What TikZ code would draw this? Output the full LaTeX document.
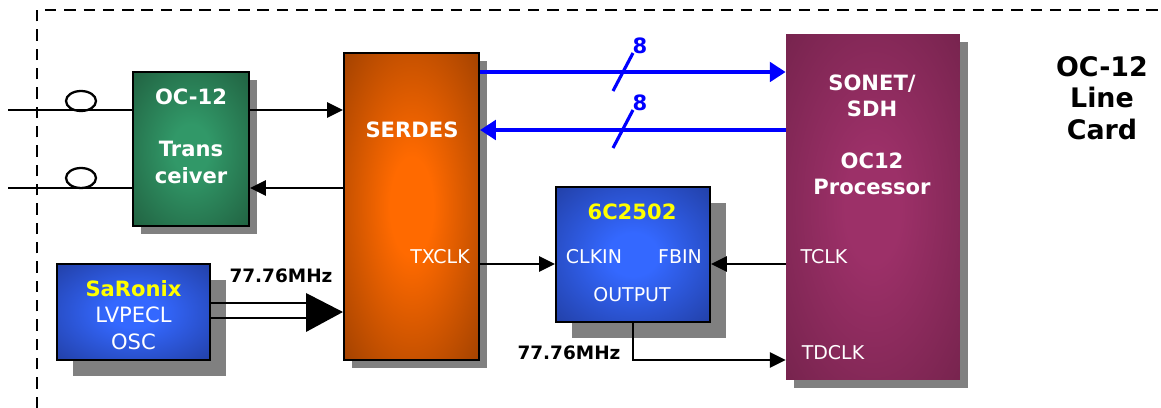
\documentclass[tikz,border=0pt]{standalone}
\usepackage{fontspec}
\setmainfont{DejaVu Sans}
\usepackage{tikz}
\usetikzlibrary{arrows.meta,positioning,shapes.geometric,shadows}

\definecolor{trxout}{HTML}{1A4A30}
\definecolor{trxin}{HTML}{319868}
\definecolor{serout}{HTML}{7A3000}
\definecolor{serin}{HTML}{FF6A00}
\definecolor{oscout}{HTML}{1A2E80}
\definecolor{oscin}{HTML}{3468FF}
\definecolor{procout}{HTML}{661E42}
\definecolor{procin}{HTML}{9C3068}
\definecolor{chipyellow}{HTML}{FFFF00}

\pgfdeclareradialshading{trxglow}{\pgfpointorigin}{color(0bp)=(trxin); color(8bp)=(trxin); color(48bp)=(trxout); color(72bp)=(trxout)}
\pgfdeclareradialshading{serglow}{\pgfpointorigin}{color(0bp)=(serin); color(8bp)=(serin); color(48bp)=(serout); color(72bp)=(serout)}
\pgfdeclareradialshading{oscglow}{\pgfpointorigin}{color(0bp)=(oscin); color(8bp)=(oscin); color(48bp)=(oscout); color(72bp)=(oscout)}
\pgfdeclareradialshading{procglow}{\pgfpointorigin}{color(0bp)=(procin); color(8bp)=(procin); color(48bp)=(procout); color(72bp)=(procout)}

\begin{document}
\begin{tikzpicture}[
        x=0.02cm, y=-0.02cm,
        box/.style = {draw=black, line width=1.2pt, inner sep=0pt},
        liftA/.style = {drop shadow={shadow xshift=0.16cm, shadow yshift=-0.16cm, fill=gray, opacity=1}},
        liftB/.style = {drop shadow={shadow xshift=0.32cm, shadow yshift=-0.32cm, fill=gray, opacity=1}},
        title/.style = {text=white, align=center, font=\fontsize{12}{15.3}\selectfont\bfseries},
        port/.style = {text=white, font=\fontsize{10.8}{13}\selectfont},
        freq/.style = {font=\fontsize{10.5}{12}\selectfont\bfseries},
        wire/.style = {line width=1.5pt},
        arr/.style = {wire, -{Triangle[length=9pt,width=8.5pt]}},
        bus/.style = {blue, line width=2.8pt, -{Triangle[length=9pt,width=11pt]}},
        loopfiber/.style = {ellipse, draw, line width=1.3pt, minimum width=0.6cm, minimum height=0.4cm, inner sep=0pt}
    ]
    \useasboundingbox (0,0) rectangle (1161,408);

    % card outline
    \draw[dashed, dash pattern=on 6.5pt off 4.5pt, line width=0.8pt] (37,408) -- (37,10) -- (1161,10);

    % blocks
    \node[box, liftA, shading=trxglow, minimum width=2.32cm, minimum height=3.08cm] (trx) at (191,149) {};
    \node[box, liftA, shading=serglow, minimum width=2.7cm, minimum height=6.14cm] (serdes) at (411.5,206.5) {};
    \node[box, liftB, shading=oscglow, minimum width=3.06cm, minimum height=1.92cm] (osc) at (133.5,312) {};
    \node[box, liftB, shading=oscglow, minimum width=3.08cm, minimum height=2.7cm] (pll) at (633,254.5) {};
    \node[inner sep=0pt, liftA, shading=procglow, minimum width=3.48cm, minimum height=6.92cm] (proc) at (873,207) {};

    % block texts
    \node[title] (trxname) at (191,97) {OC-12};
    \node[title] (trxkind) at (191,162.5) {Trans\\ceiver};
    \node[title] (sername) at (412,130) {SERDES};
    \node[title, font=\fontsize{12}{15}\selectfont] (oscname) at (133.5,315)
        {\textcolor{chipyellow}{\bfseries SaRonix}\\LVPECL\\OSC};
    \node[title, text=chipyellow] (pllname) at (632,212) {6C2502};
    \node[title, font=\fontsize{12}{14.7}\selectfont\bfseries] (procnameA) at (872,96) {SONET/\\SDH};
    \node[title, font=\fontsize{12}{14.7}\selectfont\bfseries] (procnameB) at (872,174) {OC12\\Processor};
    \node[title, text=black, font=\fontsize{15.3}{18}\selectfont\bfseries] (cardname) at (1102,98) {OC-12\\Line\\Card};

    \node[port] (txclk) at (440,257) {TXCLK};
    \node[port] (clkin) at (594,257) {CLKIN};
    \node[port] (fbin) at (680,257) {FBIN};
    \node[port] (pllout) at (632,295) {OUTPUT};
    \node[port] (tclk) at (824,257) {TCLK};
    \node[port] (tdclk) at (833,353) {TDCLK};

    \node[freq] (oscfreq) at (281,276) {77.76MHz};
    \node[freq] (outfreq) at (569,353) {77.76MHz};

    % line side
    \coordinate (rxline) at (8,110);
    \coordinate (txline) at (8,188);
    \draw[wire] (rxline) -- (trx.west |- rxline);
    \draw[wire] (txline) -- (trx.west |- txline);
    \node[loopfiber] (rxloop) at (81,101) {};
    \node[loopfiber] (txloop) at (81,178) {};
    \draw[arr] (trx.east |- rxline) -- (serdes.west |- rxline);
    \draw[arr] (serdes.west |- txline) -- (trx.east |- txline);

    % 8 bit buses
    \coordinate (busA) at (0,72);
    \coordinate (busB) at (0,130);
    \draw[bus] (serdes.east |- busA) -- (proc.west |- busA);
    \draw[bus] (proc.west |- busB) -- (serdes.east |- busB);
    \draw[blue, line width=1.8pt] (613,91) -- (633,53);
    \draw[blue, line width=1.8pt] (613,148) -- (633,110);
    \node[freq, text=blue, font=\fontsize{12}{14}\selectfont\bfseries] (widthA) at (640,46) {8};
    \node[freq, text=blue, font=\fontsize{12}{14}\selectfont\bfseries] (widthB) at (640,103) {8};

    % clocks
    \coordinate (clkrow) at (0,264);
    \coordinate (outrow) at (0,360);
    \draw[arr] (serdes.east |- clkrow) -- (pll.west |- clkrow);
    \draw[arr] (proc.west |- clkrow) -- (pll.east |- clkrow);
    \draw[arr] (pll.south) |- (proc.west |- outrow);

    % oscillator drive
    \coordinate (drvbase) at (306,312);
    \coordinate (drvtip) at (serdes.west |- drvbase);
    \draw[wire] (osc.east |- 0,303) -- (drvbase |- 0,303);
    \draw[wire] (osc.east |- 0,318) -- (drvbase |- 0,318);
    \fill (drvtip) -- (drvbase |- 0,293) -- (drvbase |- 0,332) -- cycle;

    \end{tikzpicture}
\end{document}
